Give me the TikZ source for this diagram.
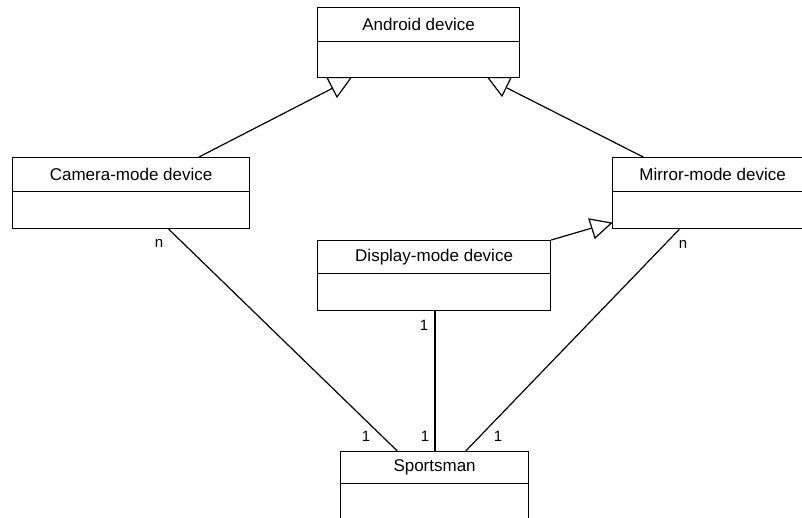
\documentclass[tikz,border=0pt]{standalone}
\usepackage{fontspec}
\setmainfont{Liberation Sans}
\usetikzlibrary{calc}
\begin{document}
\begin{tikzpicture}[x=1pt,y=-1pt,
  cls/.style={draw, line width=1.2pt, rectangle, inner sep=0pt, anchor=north west, font=\fontsize{17}{20}\selectfont},
  lbl/.style={font=\fontsize{15}{18}\selectfont, inner sep=0pt},
  conn/.style={line width=1.2pt},
  tri/.style={draw, line width=1.2pt, fill=white, line join=miter}]
\useasboundingbox (0,0) rectangle (802,517);
\fill[white] (0,0) rectangle (802,517);
% Android device
\node[cls, minimum width=202pt, minimum height=34pt] (and) at (317,7) {Android device};
\node[cls, minimum width=202pt, minimum height=36pt] (andb) at (317,41) {};
% Camera-mode device
\node[cls, minimum width=237pt, minimum height=34pt] (cam) at (12,157) {Camera-mode device};
\node[cls, minimum width=237pt, minimum height=37pt] (camb) at (12,191) {};
% Mirror-mode device
\node[cls, minimum width=200pt, minimum height=34pt] (mir) at (612,157) {Mirror-mode device};
\node[cls, minimum width=200pt, minimum height=37pt] (mirb) at (612,191) {};
% Display-mode device
\node[cls, minimum width=233pt, minimum height=33pt] (dis) at (317,240) {Display-mode device};
\node[cls, minimum width=233pt, minimum height=37pt] (disb) at (317,273) {};
% Sportsman
\node[cls, minimum width=188pt, minimum height=32pt] (spo) at (340,451) {Sportsman};
\node[cls, minimum width=188pt, minimum height=40pt] (spob) at (340,483) {};
% connector end points
\coordinate (camtop) at ($(cam.north west)!0.785!(cam.north east)$);
\coordinate (mirtop) at ($(mir.north west)!0.155!(mir.north east)$);
\coordinate (cambot) at ($(camb.south west)!0.658!(camb.south east)$);
\coordinate (mirbot) at ($(mirb.south west)!0.335!(mirb.south east)$);
\coordinate (disbot) at ($(disb.south west)!0.504!(disb.south east)$);
\coordinate (distop) at (disb.north east |- dis.north);
\coordinate (spoL) at ($(spo.north west)!0.303!(spo.north east)$);
\coordinate (spoM) at (disbot |- spo.north);
\coordinate (spoR) at ($(spo.north west)!0.6645!(spo.north east)$);
\coordinate (triL) at (333,88);
\coordinate (triR) at (507,88);
\coordinate (triD) at (592,228);
% generalization
\draw[conn] (camtop) -- (triL);
\draw[conn] (mirtop) -- (triR);
\draw[conn] (distop) -- (triD);
\draw[tri] (327,77.6) -- (351,77.6) -- (337,97) -- cycle;
\draw[tri] (488,77.6) -- (511,77.6) -- (502,96) -- cycle;
\draw[tri] (611.4,223) -- (589,219) -- (595,238) -- cycle;
% associations
\draw[conn] (cambot) -- (spoL);
\draw[conn] (disbot) -- (spoM);
\draw[conn] (mirbot) -- (spoR);
% multiplicities
\node[lbl] (ln1) at (159,243) {n};
\node[lbl] (ln2) at (683,244) {n};
\node[lbl] (l1a) at (424,325) {1};
\node[lbl] (l1b) at (366,436) {1};
\node[lbl] (l1c) at (425,436) {1};
\node[lbl] (l1d) at (498,436) {1};
\end{tikzpicture}
\end{document}
